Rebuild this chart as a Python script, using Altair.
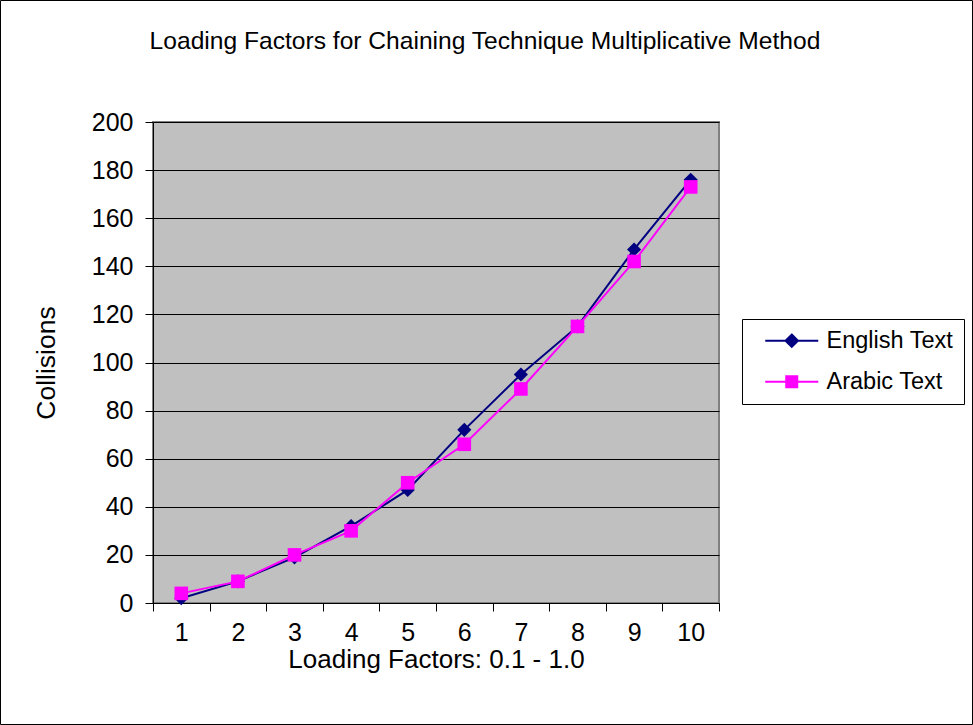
import altair as alt
import pandas as pd

# Loading factor steps (0.1 .. 1.0 shown as 1 .. 10)
factors = [1, 2, 3, 4, 5, 6, 7, 8, 9, 10]
english_collisions = [2, 9, 19, 32, 47, 72, 95, 115, 147, 176]
arabic_collisions = [4, 9, 20, 30, 50, 66, 89, 115, 142, 173]

series_names = ["English Text", "Arabic Text"]
series_colors = ["#000080", "#FF00FF"]
series_shapes = ["diamond", "square"]
y_ticks = [0, 20, 40, 60, 80, 100, 120, 140, 160, 180, 200]

rows = []
for name, values in zip(series_names, [english_collisions, arabic_collisions]):
    for f, v in zip(factors, values):
        rows.append({"factor": f, "collisions": v, "series": name})
df = pd.DataFrame(rows)

FONT = "Liberation Sans"
W, H = 566, 481

x_enc = alt.X(
    "factor:O",
    scale=alt.Scale(paddingInner=0, paddingOuter=0),
    axis=alt.Axis(
        title="Loading Factors: 0.1 - 1.0",
        labelAngle=0,
        tickBand="extent",
        tickSize=8,
        tickColor="black",
        domainColor="black",
        labelPadding=9,
        labelFontSize=25,
        labelFont=FONT,
        labelColor="black",
        titleFont=FONT,
        titleFontSize=26,
        titleFontWeight="normal",
        titleColor="black",
        titlePadding=1,
        grid=False,
    ),
)
y_enc = alt.Y(
    "collisions:Q",
    scale=alt.Scale(domain=[0, 200], nice=False),
    axis=alt.Axis(
        title="Collisions",
        values=y_ticks,
        tickSize=8,
        tickColor="black",
        domainColor="black",
        labelPadding=12,
        labelFontSize=25,
        labelFont=FONT,
        labelColor="black",
        titleFont=FONT,
        titleFontSize=26.5,
        titleFontWeight="normal",
        titleColor="black",
        titlePadding=31,
        grid=True,
        gridColor="black",
        gridWidth=1,
    ),
)

# Legend symbols: a line segment with the series marker in its middle
legend_paths = [
    "M-2.65,0L2.65,0M0,-0.62L0.62,0L0,0.62L-0.62,0Z",
    "M-2.65,0L2.65,0M-0.55,-0.55L0.55,-0.55L0.55,0.55L-0.55,0.55Z",
]
shape_expr = "datum.value == '%s' ? '%s' : '%s'" % (series_names[0], legend_paths[0], legend_paths[1])
fill_expr = "datum.value == '%s' ? '%s' : '%s'" % (series_names[0], series_colors[0], series_colors[1])

stroke_enc = alt.Stroke(
    "series:N",
    scale=alt.Scale(domain=series_names, range=series_colors),
    legend=alt.Legend(
        title=None,
        orient="none",
        legendX=589,
        legendY=197,
        symbolSize=400,
        symbolStrokeWidth=2,
        symbolType=alt.ExprRef(expr=shape_expr),
        symbolFillColor=alt.ExprRef(expr=fill_expr),
        symbolOpacity=1,
        symbolOffset=28,
        labelFont=FONT,
        labelFontSize=23.5,
        labelColor="black",
        labelOffset=23,
        rowPadding=16,
        padding=10,
        strokeColor="black",
        fillColor="white",
    ),
)

layers = []
for name, color, shape, size in zip(series_names, series_colors, series_shapes, [200, 185]):
    base = alt.Chart(df).transform_filter(alt.datum.series == name)
    line = base.mark_line(strokeWidth=2).encode(x=x_enc, y=y_enc, stroke=stroke_enc)
    pts = base.mark_point(shape=shape, filled=True, size=size, color=color, opacity=1).encode(x=x_enc, y=y_enc)
    layers += [line, pts]

# Outer frame around the whole figure
frame = alt.Chart(pd.DataFrame({"k": [0]})).mark_rect(
    fill=None, stroke="black", strokeWidth=1, clip=False
).encode(
    x=alt.value(-152.5), x2=alt.value(W + 253.5),
    y=alt.value(-121.5), y2=alt.value(H + 121.5),
)

chart = alt.layer(*layers, frame).properties(
    width=W,
    height=H,
    title=alt.TitleParams(
        "Loading Factors for Chaining Technique Multiplicative Method",
        font=FONT,
        fontSize=24.6,
        fontWeight="normal",
        color="black",
        anchor="middle",
        dx=49,
        offset=-55,
    ),
    autosize=alt.AutoSizeParams(type="none"),
    padding={"left": 153, "top": 122, "right": 254, "bottom": 122},
    background="white",
).configure_view(
    fill="#C0C0C0",
    stroke="#808080",
    strokeWidth=2,
)

chart.save("out.html", embed_options={"renderer": "svg", "actions": False})
